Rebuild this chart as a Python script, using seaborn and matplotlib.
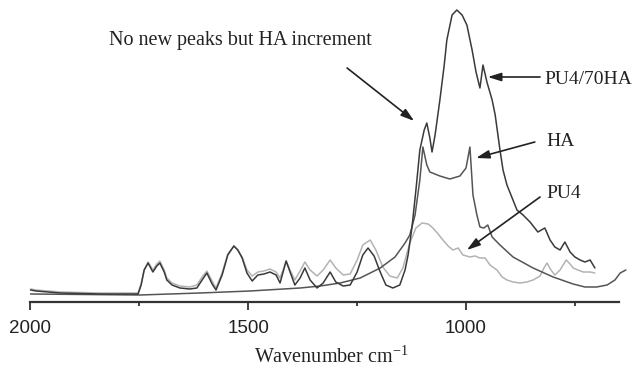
import matplotlib
matplotlib.use("Agg")
import matplotlib.pyplot as plt
import seaborn as sns
import pandas as pd
from matplotlib.ticker import FixedLocator

# ---- data (wavenumber cm-1, intensity a.u.) ----
ha_wn = [2000, 1749, 1611, 1496, 1381, 1335, 1289, 1243, 1197, 1163, 1140, 1129,
         1117, 1106, 1099, 1090, 1083, 1060, 1037, 1014, 1000, 991, 984, 975, 968,
         959, 950, 940, 922, 892, 846, 800, 754, 727, 700, 676, 658, 646, 633]
ha_val = [8, 7, 9, 11, 14, 16, 19, 24, 34, 45, 59, 67,
          87, 122, 155, 137, 130, 126, 123, 126, 134, 155, 107, 87, 75,
          74, 77, 65, 57, 45, 34, 25, 18, 15, 15, 17, 22, 29, 32]

mix_wn = [2000, 1987, 1932, 1840, 1753, 1746, 1739, 1730, 1719, 1710, 1703, 1693,
          1687, 1675, 1657, 1634, 1618, 1606, 1595, 1583, 1574, 1560, 1547, 1533,
          1524, 1514, 1503, 1491, 1478, 1464, 1450, 1436, 1427, 1420, 1413, 1404,
          1393, 1381, 1370, 1358, 1342, 1328, 1312, 1299, 1282, 1266, 1250, 1237,
          1225, 1211, 1197, 1184, 1168, 1152, 1140, 1133, 1124, 1115, 1106, 1096,
          1090, 1083, 1078, 1071, 1060, 1050, 1044, 1032, 1021, 1009, 998, 986,
          977, 968, 961, 952, 940, 933, 922, 915, 906, 894, 883, 869, 853, 835,
          819, 807, 796, 784, 773, 761, 750, 738, 727, 715, 704]
mix_val = [12, 11, 9, 8, 8, 17, 32, 39, 30, 36, 39, 30,
           22, 17, 14, 13, 14, 22, 29, 18, 12, 27, 47, 56,
           52, 44, 29, 21, 27, 28, 30, 27, 19, 30, 41, 30,
           17, 24, 34, 22, 14, 19, 30, 20, 16, 17, 30, 47,
           54, 46, 30, 17, 14, 17, 32, 47, 75, 112, 152, 172,
           179, 164, 150, 167, 202, 237, 262, 287, 292, 287, 277, 252,
           230, 214, 237, 220, 202, 187, 152, 132, 117, 104, 92, 87, 80, 70,
           74, 62, 55, 52, 60, 50, 45, 42, 40, 42, 34]

pu4_wn = [2000, 1987, 1932, 1840, 1753, 1746, 1739, 1730, 1719, 1710, 1703, 1693,
          1687, 1675, 1657, 1634, 1618, 1606, 1595, 1583, 1574, 1560, 1547, 1533,
          1524, 1514, 1503, 1491, 1478, 1464, 1450, 1436, 1427, 1420, 1413, 1404,
          1393, 1381, 1370, 1358, 1342, 1328, 1312, 1299, 1282, 1266, 1250, 1237,
          1220, 1207, 1191, 1175, 1158, 1145, 1129, 1115, 1101, 1087, 1076, 1064,
          1053, 1041, 1030, 1018, 1007, 991, 979, 968, 956, 945, 929, 917, 906,
          892, 876, 860, 846, 830, 821, 814, 805, 796, 784, 770, 761, 754, 743,
          731, 715, 704]
pu4_val = [13, 12, 10, 9, 9, 18, 32, 40, 32, 38, 41, 32,
           24, 19, 16, 15, 17, 25, 31, 21, 14, 29, 48, 56,
           52, 45, 32, 26, 30, 31, 33, 30, 24, 32, 41, 32,
           22, 31, 40, 32, 26, 32, 42, 34, 27, 28, 42, 57,
           62, 52, 35, 26, 24, 34, 59, 74, 79, 78, 74, 68,
           62, 56, 52, 54, 47, 45, 46, 44, 44, 37, 32, 25, 22,
           20, 19, 20, 22, 26, 34, 39, 32, 27, 32, 42, 38, 34, 32,
           30, 30, 29]

major_ticks = [2000, 1500, 1000]
minor_ticks = [1750, 1250, 750]

sns.set_theme(style="white")
plt.rcParams["mathtext.fontset"] = "custom"
plt.rcParams["mathtext.rm"] = "Liberation Serif"
plt.rcParams["mathtext.it"] = "Liberation Serif:italic"

fig = plt.figure(figsize=(6.33, 3.69), dpi=100)
ax = fig.add_axes([30.5 / 633, 67 / 369, 601 / 633, 302 / 369])

df_ha = pd.DataFrame({"wn": ha_wn, "val": ha_val})
df_mix = pd.DataFrame({"wn": mix_wn, "val": mix_val})
df_pu4 = pd.DataFrame({"wn": pu4_wn, "val": pu4_val})

sns.lineplot(data=df_pu4, x="wn", y="val", ax=ax, color="#b3b3b3", lw=1.1, clip_on=False)
sns.lineplot(data=df_ha, x="wn", y="val", ax=ax, color="#555555", lw=1.1, clip_on=False)
sns.lineplot(data=df_mix, x="wn", y="val", ax=ax, color="#3a3a3a", lw=1.1, clip_on=False)

ax.set_xlim(2000, 620)
ax.set_ylim(0, 302)
for s in ["left", "right", "top"]:
    ax.spines[s].set_visible(False)
ax.spines["bottom"].set_bounds(649, 2000)
ax.spines["bottom"].set_color("#333333")
ax.spines["bottom"].set_linewidth(1.6)
ax.set_yticks([])
ax.xaxis.set_major_locator(FixedLocator(major_ticks))
ax.xaxis.set_minor_locator(FixedLocator(minor_ticks))
ax.set_xticklabels([str(t) for t in major_ticks])
ax.tick_params(axis="x", which="major", direction="out", length=6, width=1.3,
               color="#333333", pad=7, labelsize=13.5, labelcolor="#222222", bottom=True)
ax.tick_params(axis="x", which="minor", direction="out", length=3, width=1.3,
               color="#333333", bottom=True)
for lab in ax.get_xticklabels():
    lab.set_fontfamily("Liberation Sans")
ax.set_xlabel("Wavenumber cm$^{-1}$", family="Liberation Serif", fontsize=14.5,
              color="#222222", labelpad=7)
ax.set_ylabel("")

tfont = dict(family="Liberation Serif", fontsize=14, color="#222222")
ax.text(1517, 261, "No new peaks but HA increment", ha="center", va="center",
        family="Liberation Serif", fontsize=14.5, color="#222222")
ax.text(820, 222, "PU4/70HA", ha="left", va="center", **tfont)
ax.text(816, 161, "HA", ha="left", va="center", **tfont)
ax.text(816, 108, "PU4", ha="left", va="center", **tfont)

aprops = dict(arrowstyle="-|>,head_length=0.8,head_width=0.25", color="#222222",
              lw=1.2, mutation_scale=10, shrinkA=0, shrinkB=0)
ax.annotate("", xy=(1119, 181), xytext=(1273, 234), arrowprops=aprops, annotation_clip=False)
ax.annotate("", xy=(950, 225), xytext=(830, 225), arrowprops=aprops, annotation_clip=False)
ax.annotate("", xy=(977, 144), xytext=(842, 160), arrowprops=aprops, annotation_clip=False)
ax.annotate("", xy=(998, 52), xytext=(830, 105), arrowprops=aprops, annotation_clip=False)

fig.savefig("out.png", dpi=100)
